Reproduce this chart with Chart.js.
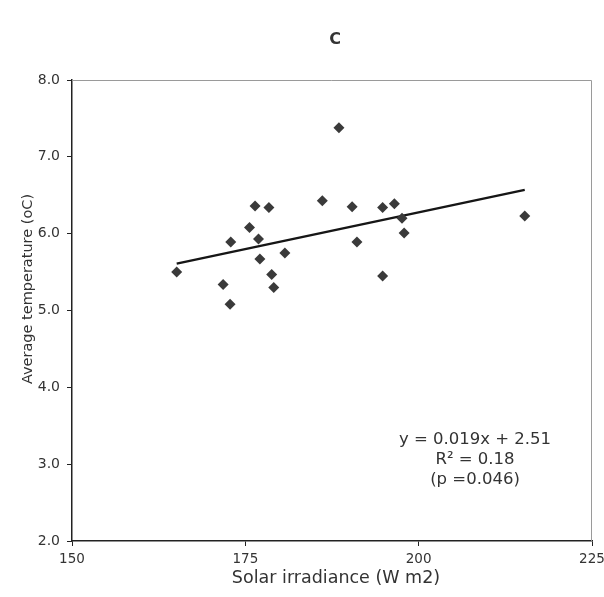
<!DOCTYPE html>
<html>
<head>
<meta charset="utf-8">
<script src="https://cdn.jsdelivr.net/npm/chart.js@4"></script>
<style>
  html, body { margin: 0; padding: 0; background: #fff; }
  #wrap { width: 604px; height: 597px; }
</style>
</head>
<body>
<div id="wrap"><canvas id="chart" width="604" height="597"></canvas></div>
<script>
// solar irradiance (x) and average temperature (y)
var irradiance  = [165.1, 171.8, 172.8, 172.9, 175.6, 176.4, 176.9, 177.1, 178.4, 178.8, 179.1, 180.7,
                   186.1, 188.5, 190.4, 191.1, 194.8, 194.8, 196.5, 197.6, 197.9, 215.3];
var temperature = [5.50, 5.34, 5.08, 5.89, 6.08, 6.36, 5.93, 5.67, 6.34, 5.47, 5.30, 5.75,
                   6.43, 7.38, 6.35, 5.89, 6.34, 5.45, 6.39, 6.20, 6.01, 6.23];

// regression line end points
var trendX = [165.1, 215.3];
var trendY = [5.61, 6.57];

// axes
var xTicks = [150, 175, 200, 225];
var yTicks = [2, 3, 4, 5, 6, 7, 8];

var chartTitle = "C";
var xTitle = "Solar irradiance (W m2)";
var yTitle = "Average temperature (oC)";
var statLines = ["y = 0.019x + 2.51", "R\u00b2 = 0.18", "(p =0.046)"];

var FONT = "'DejaVu Sans', Verdana, sans-serif";
var textColor = "#333";

function toPoints(xs, ys) {
    return xs.map(function (x, i) { return { x: x, y: ys[i] }; });
}

// grey frame on top/right, titles and the regression text
var extras = {
    id: "extras",
    beforeDatasetsDraw: function (chart) {
        var a = chart.chartArea, c = chart.ctx;
        c.save();
        c.strokeStyle = "#9a9a9a";
        c.lineWidth = 1;
        c.beginPath();
        c.moveTo(a.left, a.top + 0.5);
        c.lineTo(a.right - 0.5, a.top + 0.5);
        c.lineTo(a.right - 0.5, a.bottom);
        c.stroke();
        c.restore();
    },
    afterDraw: function (chart) {
        var c = chart.ctx;
        c.save();
        c.fillStyle = textColor;
        c.textAlign = "center";
        c.textBaseline = "middle";
        c.font = "bold 16px " + FONT;
        c.fillText(chartTitle, 335, 40);

        c.font = "17.5px " + FONT;
        c.fillText(xTitle, 336, 578);

        c.save();
        c.translate(28, 289);
        c.rotate(-Math.PI / 2);
        c.font = "14.5px " + FONT;
        c.fillText(yTitle, 0, 0);
        c.restore();

        c.font = "16.5px " + FONT;
        for (var i = 0; i < statLines.length; i++) {
            c.fillText(statLines[i], 475, 440 + i * 20);
        }
        c.restore();
    }
};

var ctx = document.getElementById("chart").getContext("2d");

new Chart(ctx, {
    type: "scatter",
    data: {
        datasets: [
            {
                label: "data",
                data: toPoints(irradiance, temperature),
                pointStyle: "rectRot",
                pointRadius: 5.5,
                backgroundColor: "#3a3a3a",
                borderColor: "#3a3a3a",
                borderWidth: 0,
                order: 1
            },
            {
                type: "line",
                label: "trend",
                data: toPoints(trendX, trendY),
                borderColor: "#161616",
                borderWidth: 2.5,
                pointRadius: 0,
                fill: false,
                order: 2
            }
        ]
    },
    options: {
        responsive: false,
        animation: false,
        layout: { padding: { top: 80, right: 12, bottom: 0, left: 0 } },
        plugins: {
            legend: { display: false },
            tooltip: { enabled: false }
        },
        scales: {
            x: {
                type: "linear",
                min: 150,
                max: 225,
                afterFit: function (s) { s.height = 56; s.paddingRight = 0; s.paddingLeft = 0; },
                afterBuildTicks: function (s) { s.ticks = xTicks.map(function (v) { return { value: v }; }); },
                border: { display: true, color: "#222", width: 1.5 },
                grid: { drawOnChartArea: false, drawTicks: true, tickLength: 5, color: "#222" },
                ticks: { color: textColor, font: { family: FONT, size: 13.5 }, padding: 5, maxRotation: 0 }
            },
            y: {
                min: 2,
                max: 8,
                afterFit: function (s) { s.width = 72; s.paddingTop = 0; s.paddingBottom = 0; },
                afterBuildTicks: function (s) { s.ticks = yTicks.map(function (v) { return { value: v }; }); },
                border: { display: true, color: "#222", width: 1.5 },
                grid: { drawOnChartArea: false, drawTicks: true, tickLength: 5, color: "#222" },
                ticks: {
                    color: textColor,
                    font: { family: FONT, size: 14 },
                    padding: 7,
                    callback: function (v) { return v.toFixed(1); }
                }
            }
        }
    },
    plugins: [extras]
});
</script>
</body>
</html>
